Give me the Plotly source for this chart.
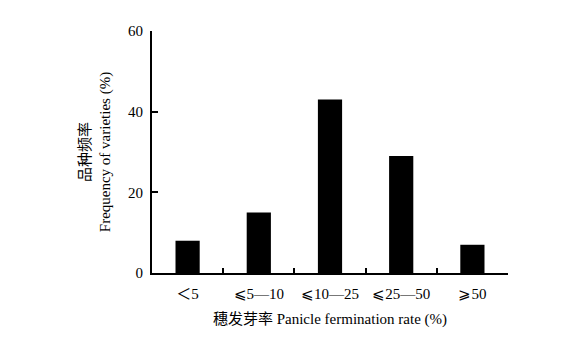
import plotly.graph_objects as go

categories = ["＜5", "⩽5—10", "⩽10—25", "⩽25—50", "⩾50"]
frequency = [8, 15, 43, 29, 7]
y_ticks = [0, 20, 40, 60]

fig = go.Figure(go.Bar(x=categories, y=frequency, marker=dict(color="black", line=dict(width=0)), width=0.34))

font_fam = "Liberation Serif, Noto Sans CJK SC, DejaVu Serif, serif"
fig.update_layout(
    width=570, height=340,
    margin=dict(l=152, r=62, t=31, b=67),
    plot_bgcolor="white", paper_bgcolor="white",
    font=dict(family=font_fam, size=15, color="black"),
    showlegend=False,
)
fig.update_xaxes(
    type="category", showline=True, linecolor="black", linewidth=2,
    ticks="inside", ticklen=5, tickwidth=2, tickcolor="black",
    tickson="boundaries", showgrid=False, ticklabelstandoff=6,
    title=dict(text="穗发芽率 Panicle fermination rate (%)", standoff=12, font=dict(size=15)),
)
fig.update_yaxes(
    range=[0, 60], tickvals=y_ticks, showline=True, linecolor="black", linewidth=2,
    ticks="inside", ticklen=6, tickwidth=2, tickcolor="black",
    showgrid=False, zeroline=False, ticklabelstandoff=4,
    title=dict(text="品种频率<br>Frequency of varieties (%)", standoff=14, font=dict(size=15)),
)
fig.write_html("out.html")
